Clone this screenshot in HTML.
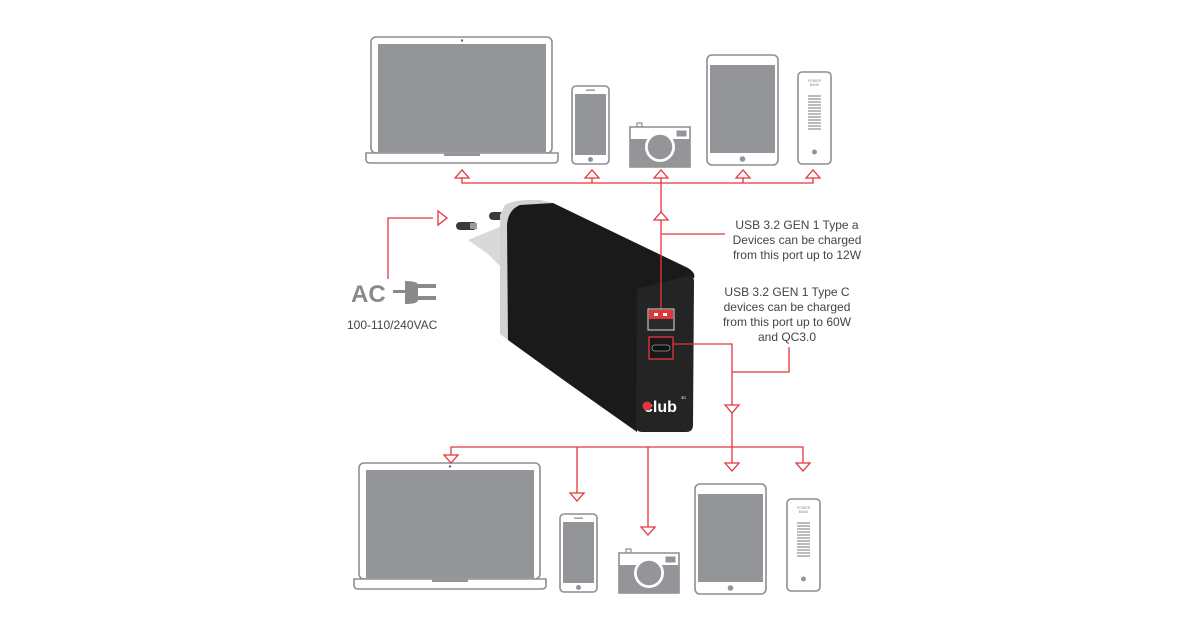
<!DOCTYPE html>
<html><head><meta charset="utf-8"><style>
html,body{margin:0;padding:0;background:#fff;}
svg{display:block;}
text{font-family:"Liberation Sans",sans-serif;}
</style></head><body>
<svg width="1200" height="630" viewBox="0 0 1200 630" xmlns="http://www.w3.org/2000/svg">
<defs>
<g id="laptop">
<rect x="5" y="0" width="181" height="116" rx="5" fill="#fff" stroke="#8d8e91" stroke-width="1.6"/>
<rect x="12" y="7" width="168" height="108" fill="#939598"/>
<circle cx="96" cy="3.5" r="1.2" fill="#666"/>
<path d="M0 116 H192 V122 Q192 126 188 126 H4 Q0 126 0 122 Z" fill="#fff" stroke="#8d8e91" stroke-width="1.6"/>
<rect x="78" y="116" width="36" height="3" fill="#939598"/>
</g>
<g id="phone">
<rect x="0" y="0" width="37" height="78" rx="4" fill="#fff" stroke="#8d8e91" stroke-width="1.6"/>
<rect x="3" y="8" width="31" height="61" fill="#939598"/>
<rect x="14" y="3.5" width="9" height="1.3" fill="#8d8e91"/>
<circle cx="18.5" cy="73.5" r="2.5" fill="#939598"/>
</g>
<g id="camera">
<rect x="8" y="0" width="5" height="4" fill="#fff" stroke="#8d8e91" stroke-width="1.2"/>
<path d="M1 4 H61 V44 H1 Z" fill="#fff" stroke="#8d8e91" stroke-width="1.6"/>
<rect x="1" y="16" width="60" height="28" fill="#939598"/>
<rect x="47" y="7" width="11" height="7" fill="#939598" stroke="#fff" stroke-width="1"/>
<circle cx="31" cy="24" r="15" fill="#fff"/>
<circle cx="31" cy="24" r="13" fill="#939598" stroke="#fff" stroke-width="1.5"/>
<circle cx="31" cy="24" r="10" fill="#939598"/>
</g>
<g id="tablet">
<rect x="0" y="0" width="71" height="110" rx="5" fill="#fff" stroke="#8d8e91" stroke-width="1.6"/>
<rect x="3" y="10" width="65" height="88" fill="#939598"/>
<circle cx="35.5" cy="104" r="2.8" fill="#939598"/>
</g>
<g id="bank">
<rect x="0" y="0" width="33" height="92" rx="4" fill="#fff" stroke="#8d8e91" stroke-width="1.6"/>
<text x="16.5" y="10" font-size="3.5" text-anchor="middle" fill="#888">POWER</text>
<text x="16.5" y="14" font-size="3.5" text-anchor="middle" fill="#888">BANK</text>
<g stroke="#8d8e91" stroke-width="1.2">
<line x1="10" y1="24" x2="23" y2="24"/><line x1="10" y1="27" x2="23" y2="27"/><line x1="10" y1="30" x2="23" y2="30"/><line x1="10" y1="33" x2="23" y2="33"/><line x1="10" y1="36" x2="23" y2="36"/><line x1="10" y1="39" x2="23" y2="39"/><line x1="10" y1="42" x2="23" y2="42"/><line x1="10" y1="45" x2="23" y2="45"/><line x1="10" y1="48" x2="23" y2="48"/><line x1="10" y1="51" x2="23" y2="51"/><line x1="10" y1="54" x2="23" y2="54"/><line x1="10" y1="57" x2="23" y2="57"/>
</g>
<circle cx="16.5" cy="80" r="2.5" fill="#939598"/>
</g>
<path id="up" d="M-7 8 L0 0 L7 8 Z" fill="#fff" stroke="#e2363d" stroke-width="1.3"/>
<path id="dn" d="M-7 -8 L0 0 L7 -8 Z" fill="#fff" stroke="#e2363d" stroke-width="1.3"/>
</defs>

<use href="#laptop" x="366" y="37"/>
<use href="#phone" x="572" y="86"/>
<use href="#camera" x="629" y="123"/>
<use href="#tablet" x="707" y="55"/>
<use href="#bank" x="798" y="72"/>

<use href="#laptop" x="354" y="463"/>
<use href="#phone" x="560" y="514"/>
<use href="#camera" x="618" y="549"/>
<use href="#tablet" x="695" y="484"/>
<use href="#bank" x="787" y="499"/>

<!-- charger -->
<path d="M468 240 L502 226 L502 268 L488 254 Z" fill="#d8d9db"/>
<rect x="456" y="222" width="21" height="8" rx="4" fill="#3a3a3a"/>
<rect x="470" y="223" width="7" height="6" fill="#999"/>
<rect x="489" y="212" width="19" height="8" rx="4" fill="#3a3a3a"/>
<path d="M500 215 L505 205 Q515 199 540 200 L553 203 L515 222 L508 340 L500 334 Z" fill="#d2d3d5"/>
<path d="M507 225 Q508 210 520 205 L553 203 L688 268 Q696 273 694 278 L637 290 L637 432 Q570 385 508 340 Z" fill="#1a1a1a"/>
<path d="M637 289 L688 276 Q694 275 694 282 L693 425 Q693 432 686 432 L642 432 Q636 432 636 426 Z" fill="#242424"/>

<g stroke="#e2363d" stroke-width="1.3" fill="none">
<polyline points="462,176 462,183 813,183 813,176"/>
<line x1="592" y1="176" x2="592" y2="183"/>
<line x1="661" y1="176" x2="661" y2="212"/>
<line x1="743" y1="176" x2="743" y2="183"/>
<line x1="661" y1="220" x2="661" y2="316"/>
<line x1="661" y1="234" x2="725" y2="234"/>
<polyline points="673,344 732,344 732,405"/>
<polyline points="732,372 789,372 789,347"/>
<line x1="732" y1="413" x2="732" y2="463"/>
<polyline points="451,455 451,447 803,447 803,463"/>
<line x1="577" y1="447" x2="577" y2="493"/>
<line x1="648" y1="447" x2="648" y2="527"/>
<polyline points="388,279 388,218 433,218"/>
</g>
<rect x="648" y="309" width="26" height="21" fill="#2a2a2a" stroke="#ddd" stroke-width="1"/>
<rect x="649" y="310" width="24" height="9" fill="#e2363d"/>
<rect x="654" y="313" width="4" height="3" fill="#fff"/>
<rect x="663" y="313" width="4" height="3" fill="#fff"/>
<rect x="649" y="337" width="24" height="22" fill="#1a1a1a" stroke="#e2363d" stroke-width="1.3"/>
<rect x="652" y="345" width="18" height="6" rx="3" fill="#111" stroke="#999" stroke-width="0.8"/>
<text x="644" y="412" font-size="16" font-weight="bold" fill="#fff">club</text>
<circle cx="647" cy="406" r="4.5" fill="#e2363d"/>
<text x="681" y="399" font-size="4" fill="#fff">3D</text>

<use href="#up" x="462" y="170"/>
<use href="#up" x="592" y="170"/>
<use href="#up" x="661" y="170"/>
<use href="#up" x="743" y="170"/>
<use href="#up" x="813" y="170"/>
<use href="#up" x="661" y="212"/>
<use href="#dn" x="732" y="413"/>
<use href="#dn" x="451" y="463"/>
<use href="#dn" x="577" y="501"/>
<use href="#dn" x="648" y="535"/>
<use href="#dn" x="732" y="471"/>
<use href="#dn" x="803" y="471"/>
<path d="M438 211 L447 218 L438 225 Z" fill="#fff" stroke="#e2363d" stroke-width="1.3"/>

<text x="351" y="302" font-size="24" font-weight="bold" fill="#8a8a8d">AC</text>
<g fill="#8a8a8d">
<rect x="393" y="290" width="12" height="3"/>
<path d="M405 281 Q418 281 418 285 L418 300 Q418 304 405 304 Z"/>
<rect x="418" y="284" width="18" height="4"/>
<rect x="418" y="296" width="18" height="4"/>
</g>
<text x="347" y="329" font-size="12" fill="#444">100-110/240VAC</text>

<g font-size="12" fill="#444" text-anchor="middle">
<text x="797" y="229">USB 3.2 GEN 1 Type a</text>
<text x="797" y="244">Devices can be charged</text>
<text x="797" y="259">from this port up to 12W</text>
<text x="787" y="296">USB 3.2 GEN 1 Type C</text>
<text x="787" y="311">devices can be charged</text>
<text x="787" y="326">from this port  up to 60W</text>
<text x="787" y="341">and QC3.0</text>
</g>
</svg>
</body></html>
